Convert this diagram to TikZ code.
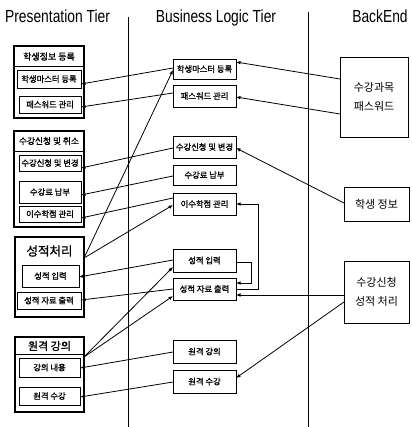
\documentclass[tikz,border=0pt]{standalone}
\usepackage{fontspec}
\newfontfamily\kr{Noto Sans CJK KR}
\newfontfamily\krb[FakeBold=1.2]{Noto Sans CJK KR}
\newfontfamily\titlefont[FakeStretch=0.79]{Liberation Sans}
\usetikzlibrary{arrows.meta,calc}
\tikzset{
  grp/.style={draw, line width=1.1pt, inner sep=0pt, outer sep=0pt},
  inbox/.style={draw, line width=0.9pt, inner sep=0pt, outer sep=0pt, font=\krb\fontsize{8.3}{9}\selectfont},
  midbox/.style={draw, line width=0.9pt, inner sep=0pt, outer sep=0pt, minimum width=63pt, font=\krb\fontsize{8.3}{9}\selectfont},
  endbox/.style={draw, line width=0.9pt, inner sep=0pt, outer sep=0pt, align=center, font=\kr\fontsize{11}{19}\selectfont},
  gtitle/.style={inner sep=0pt, font=\krb\fontsize{9}{10}\selectfont},
  tier/.style={inner sep=0pt, anchor=base, font=\titlefont\fontsize{17.5}{18}\selectfont},
  conn/.style={line width=0.8pt, -{Latex[length=4.5pt,width=3.6pt]}},
  plain/.style={line width=0.8pt}
}
\begin{document}
\begin{tikzpicture}[x=1pt,y=-1pt]
\useasboundingbox (0,0) rectangle (411,427);
% tier titles
\node[tier] (tp) at (57.5,22.7) {Presentation Tier};
\node[tier] (tb) at (216,22.7) {Business Logic Tier};
\node[tier] (te) at (380,22.7) {BackEnd};
% tier separators
\coordinate (s1a) at (128,17); \coordinate (s1b) at (128,427);
\coordinate (s2a) at (308,12); \coordinate (s2b) at (308,427);
\draw[line width=0.8pt] (s1a) -- (s1b);
\draw[line width=0.8pt] (s2a) -- (s2b);

% ---------- Presentation tier groups ----------
\node[grp, minimum width=70pt, minimum height=72pt] (G1) at (49,82) {};
\draw[line width=0.9pt] ($(G1.north west)+(0,20)$) -- ($(G1.north east)+(0,20)$);
\node[gtitle] (T1) at (49,56.5) {학생정보 등록};
\node[inbox, minimum width=64pt, minimum height=18pt] (L1a) at (49,79) {학생마스터 등록};
\node[inbox, minimum width=62pt, minimum height=17pt] (L1b) at (50,104.5) {패스워드 관리};

\node[grp, minimum width=70pt, minimum height=96pt] (G2) at (49,179) {};
\draw[line width=0.9pt] ($(G2.north west)+(0,20)$) -- ($(G2.north east)+(0,20)$);
\node[gtitle] (T2) at (49,141) {\fontsize{8.7}{10}\selectfont 수강신청 및 취소};
\node[inbox, minimum width=62pt, minimum height=16pt] (L2a) at (50,163) {수강신청 및 변경};
\node[inbox, minimum width=62pt, minimum height=22pt] (L2b) at (50,192) {수강료 납부};
\node[inbox, minimum width=62pt, minimum height=16pt] (L2c) at (50,214) {이수학점 관리};

\node[grp, minimum width=69pt, minimum height=80pt] (G3) at (49.5,277) {};
\node[gtitle] (T3) at (49.5,251) {\fontsize{12.5}{14}\selectfont 성적처리};
\node[inbox, minimum width=57pt, minimum height=22pt] (L3a) at (50.5,276) {성적 입력};
\node[inbox, minimum width=64pt, minimum height=17pt] (L3b) at (49,300.5) {성적 자료 출력};

\node[grp, minimum width=69pt, minimum height=75pt] (G4) at (49.5,374.5) {};
\draw[line width=0.9pt] ($(G4.north west)+(0,17)$) -- ($(G4.north east)+(0,17)$);
\node[gtitle] (T4) at (49.5,346) {\fontsize{11}{12}\selectfont 원격 강의};
\node[inbox, minimum width=61pt, minimum height=19pt] (L4a) at (49.5,367.5) {강의 내용};
\node[inbox, minimum width=61pt, minimum height=18pt] (L4b) at (49.5,396) {원격 수강};

% ---------- Business logic tier ----------
\node[midbox, minimum height=20pt] (M1) at (204.5,69) {학생마스터 등록};
\node[midbox, minimum height=22pt] (M2) at (204.5,96) {패스워드 관리};
\node[midbox, minimum height=22pt] (M3) at (204.5,147) {수강신청 및 변경};
\node[midbox, minimum height=20pt] (M4) at (204.5,175) {수강료 납부};
\node[midbox, minimum height=22pt] (M5) at (204.5,204) {이수학점 관리};
\node[midbox, minimum height=23pt] (M6) at (204.5,260.5) {성적 입력};
\node[midbox, minimum height=22pt] (M7) at (204.5,289) {성적 자료 출력};
\node[midbox, minimum height=23pt] (M8) at (204.5,351.5) {원격 강의};
\node[midbox, minimum height=23pt] (M9) at (204.5,381.5) {원격 수강};

% ---------- Backend ----------
\node[endbox, minimum width=68pt, minimum height=80pt] (B1) at (374,97) {수강과목\\패스워드};
\node[endbox, minimum width=65pt, minimum height=34pt] (B2) at (376.5,204) {학생 정보};
\node[endbox, minimum width=65pt, minimum height=62pt] (B3) at (376.5,292) {수강신청\\성적 처리};

% ---------- connectors ----------
\draw[conn] ([yshift=18pt]B1.west) -- ([yshift=7pt]M1.east);
\draw[conn] ([yshift=-17pt]B1.west) -- ([yshift=-1pt]M2.east);
\draw[conn] ([yshift=1pt]M1.west) -- ([yshift=-5pt]L1a.east);
\draw[conn] ([yshift=3pt]M2.west) -- ([yshift=-2.5pt]L1b.east);
\draw[conn] ([yshift=19pt]G3.east) -- ([yshift=-1pt]M1.west);
\draw[conn] ([yshift=-1pt]M3.west) -- ([yshift=-5pt]L2a.east);
\draw[conn] ([yshift=-1pt]M4.west) -- ([yshift=-3pt]L2b.east);
\draw[conn] ([yshift=6pt]M5.west) -- ([yshift=-4pt]L2c.east);
\draw[conn] ([yshift=19pt]G3.east) -- ([yshift=-1pt]M5.west);
\draw[conn] ([yshift=0.5pt]M6.west) -- ([yshift=-1pt]L3a.east);
\draw[conn] (M7.west) -- ([yshift=0.5pt]L3b.east);
\draw[conn] ([yshift=17.5pt]G4.east) -- ([yshift=-6.5pt]M6.west);
\draw[conn] ([yshift=17.5pt]G4.east) -- ([yshift=-7pt]M7.west);
\draw[conn] ([yshift=-0.5pt]M8.west) -- ([yshift=-0.5pt]L4a.east);
\draw[conn] ([yshift=-0.5pt]M9.west) -- ([yshift=-1pt]L4b.east);
\draw[conn] ([yshift=1pt]B2.west) -- ([yshift=-1pt]M3.east);
\draw[conn] ([yshift=-3pt]B3.west) -- ([yshift=-6pt]M7.east);
\draw[conn] ([yshift=-10pt]B3.west) -- ([yshift=3.5pt]M9.east);
\draw[conn] ([yshift=-1.5pt]M6.east) -- ++(15,0) |- ([yshift=6pt]M7.east);
\draw[conn] (M7.east) -- ++(22,0) |- (M5.east);
\end{tikzpicture}
\end{document}
